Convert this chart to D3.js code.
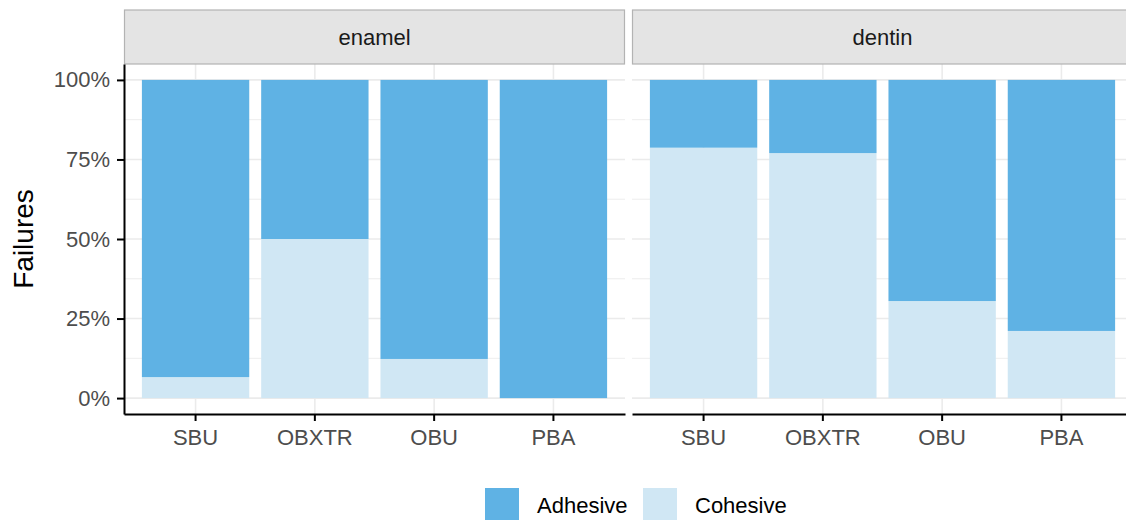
<!DOCTYPE html>
<html>
<head>
<meta charset="utf-8">
<script src="https://cdn.jsdelivr.net/npm/d3@7"></script>
<style>
  body { margin: 0; background: #fff; }
  text { font-family: "Liberation Sans", Arial, sans-serif; }
</style>
</head>
<body>
<script>
"use strict";

// Data

const substrates = ["enamel", "dentin"];
const adhesives = ["SBU", "OBXTR", "OBU", "PBA"];
const failureModes = ["Adhesive", "Cohesive"];

// share of cohesive failures (bottom segment), per substrate
const cohesiveEnamel = [0.066, 0.50, 0.123, 0.0];
const cohesiveDentin = [0.787, 0.770, 0.305, 0.211];

const yTicks = [0, 0.25, 0.5, 0.75, 1];
const yMinor = [0.125, 0.375, 0.625, 0.875];

// Size parameters

const width = 1126;
const height = 520;
const panelTop = 64;
const panelBottom = 414;
const panelWidth = 501;
const panelLefts = [124, 632];
const stripTop = 10;

const colors = { Adhesive: "#5fb2e4", Cohesive: "#d0e7f4" };
const gridColor = "#ebebeb";

const svg = d3.select("body")
    .append("svg")
    .attr("width", width)
    .attr("height", height);

const y = d3.scaleLinear()
    .domain([-0.05, 1.05])
    .range([panelBottom, panelTop]);

const rows = (values) => adhesives.map((a, i) => ({
    adhesive: a,
    Cohesive: values[i],
    Adhesive: 1 - values[i]
}));

const stack = d3.stack().keys(["Cohesive", "Adhesive"]);

/****************
 * Render Panel *
 ****************/

const renderPanel = (substrate, values, left, first) => {
    const x = d3.scaleBand()
        .domain(adhesives)
        .range([left, left + panelWidth])
        .paddingInner(0.1)
        .paddingOuter(0.15);

    const g = svg.append("g").classed("panel", true);

    // gridlines
    g.selectAll(".minor")
        .data(yMinor)
        .enter()
        .append("line")
        .attr("x1", left).attr("x2", left + panelWidth)
        .attr("y1", d => y(d)).attr("y2", d => y(d))
        .attr("stroke", gridColor)
        .attr("stroke-width", 0.9);

    g.selectAll(".major")
        .data(yTicks)
        .enter()
        .append("line")
        .attr("x1", left).attr("x2", left + panelWidth)
        .attr("y1", d => y(d)).attr("y2", d => y(d))
        .attr("stroke", gridColor)
        .attr("stroke-width", 1.6);

    g.selectAll(".vgrid")
        .data(adhesives)
        .enter()
        .append("line")
        .attr("x1", d => x(d) + x.bandwidth() / 2)
        .attr("x2", d => x(d) + x.bandwidth() / 2)
        .attr("y1", panelTop).attr("y2", panelBottom)
        .attr("stroke", gridColor)
        .attr("stroke-width", 1.6);

    // bars
    const series = stack(rows(values));
    g.selectAll(".series")
        .data(series)
        .enter()
        .append("g")
        .attr("fill", d => colors[d.key])
        .selectAll("rect")
        .data(d => d)
        .enter()
        .append("rect")
        .attr("x", d => x(d.data.adhesive))
        .attr("width", x.bandwidth())
        .attr("y", d => y(d[1]))
        .attr("height", d => y(d[0]) - y(d[1]));

    // strip
    g.append("rect")
        .attr("x", left + 0.5)
        .attr("y", stripTop)
        .attr("width", panelWidth - 1)
        .attr("height", panelTop - stripTop)
        .attr("fill", "#e4e4e4")
        .attr("stroke", "#b3b3b3")
        .attr("stroke-width", 1.2);

    g.append("text")
        .attr("x", left + panelWidth / 2)
        .attr("y", (stripTop + panelTop) / 2)
        .attr("dy", "0.36em")
        .attr("text-anchor", "middle")
        .attr("font-size", 22)
        .attr("fill", "#1a1a1a")
        .text(substrate);

    // x axis
    const xAxis = g.append("g")
        .attr("transform", `translate(0,${panelBottom})`)
        .call(d3.axisBottom(x).tickSize(7).tickPadding(8).tickSizeOuter(0));
    xAxis.select(".domain").attr("stroke", "#000").attr("stroke-width", 2);
    xAxis.selectAll(".tick line").attr("stroke", "#000").attr("stroke-width", 2);
    xAxis.selectAll("text")
        .attr("font-size", 22)
        .attr("font-family", "Liberation Sans, Arial, sans-serif")
        .attr("fill", "#4d4d4d");

    // y axis only on the first panel
    if (first) {
        const yAxis = g.append("g")
            .attr("transform", `translate(${left},0)`)
            .call(d3.axisLeft(y)
                .tickValues(yTicks)
                .tickFormat(d3.format(".0%"))
                .tickSize(7)
                .tickPadding(7)
                .tickSizeOuter(0));
        yAxis.select(".domain").attr("stroke", "#000").attr("stroke-width", 2);
        yAxis.selectAll(".tick line").attr("stroke", "#000").attr("stroke-width", 2);
        yAxis.selectAll("text")
            .attr("font-size", 22)
            .attr("font-family", "Liberation Sans, Arial, sans-serif")
            .attr("fill", "#4d4d4d");
    }
};

renderPanel(substrates[0], cohesiveEnamel, panelLefts[0], true);
renderPanel(substrates[1], cohesiveDentin, panelLefts[1], false);

// y axis title
svg.append("text")
    .attr("transform", `translate(33,${(panelTop + panelBottom) / 2}) rotate(-90)`)
    .attr("text-anchor", "middle")
    .attr("font-size", 28)
    .attr("fill", "#000")
    .text("Failures");

/*****************
 * Render Legend *
 *****************/

const legendKeyX = [485, 643];
const legend = svg.selectAll(".legend")
    .data(failureModes)
    .enter()
    .append("g")
    .classed("legend", true)
    .attr("transform", (d, i) => `translate(${legendKeyX[i]},488)`);

legend.append("rect")
    .attr("width", 34)
    .attr("height", 34)
    .attr("fill", d => colors[d]);

legend.append("text")
    .attr("x", 52)
    .attr("y", 17)
    .attr("dy", "0.36em")
    .attr("font-size", 22)
    .attr("fill", "#000")
    .text(d => d);
</script>
</body>
</html>
